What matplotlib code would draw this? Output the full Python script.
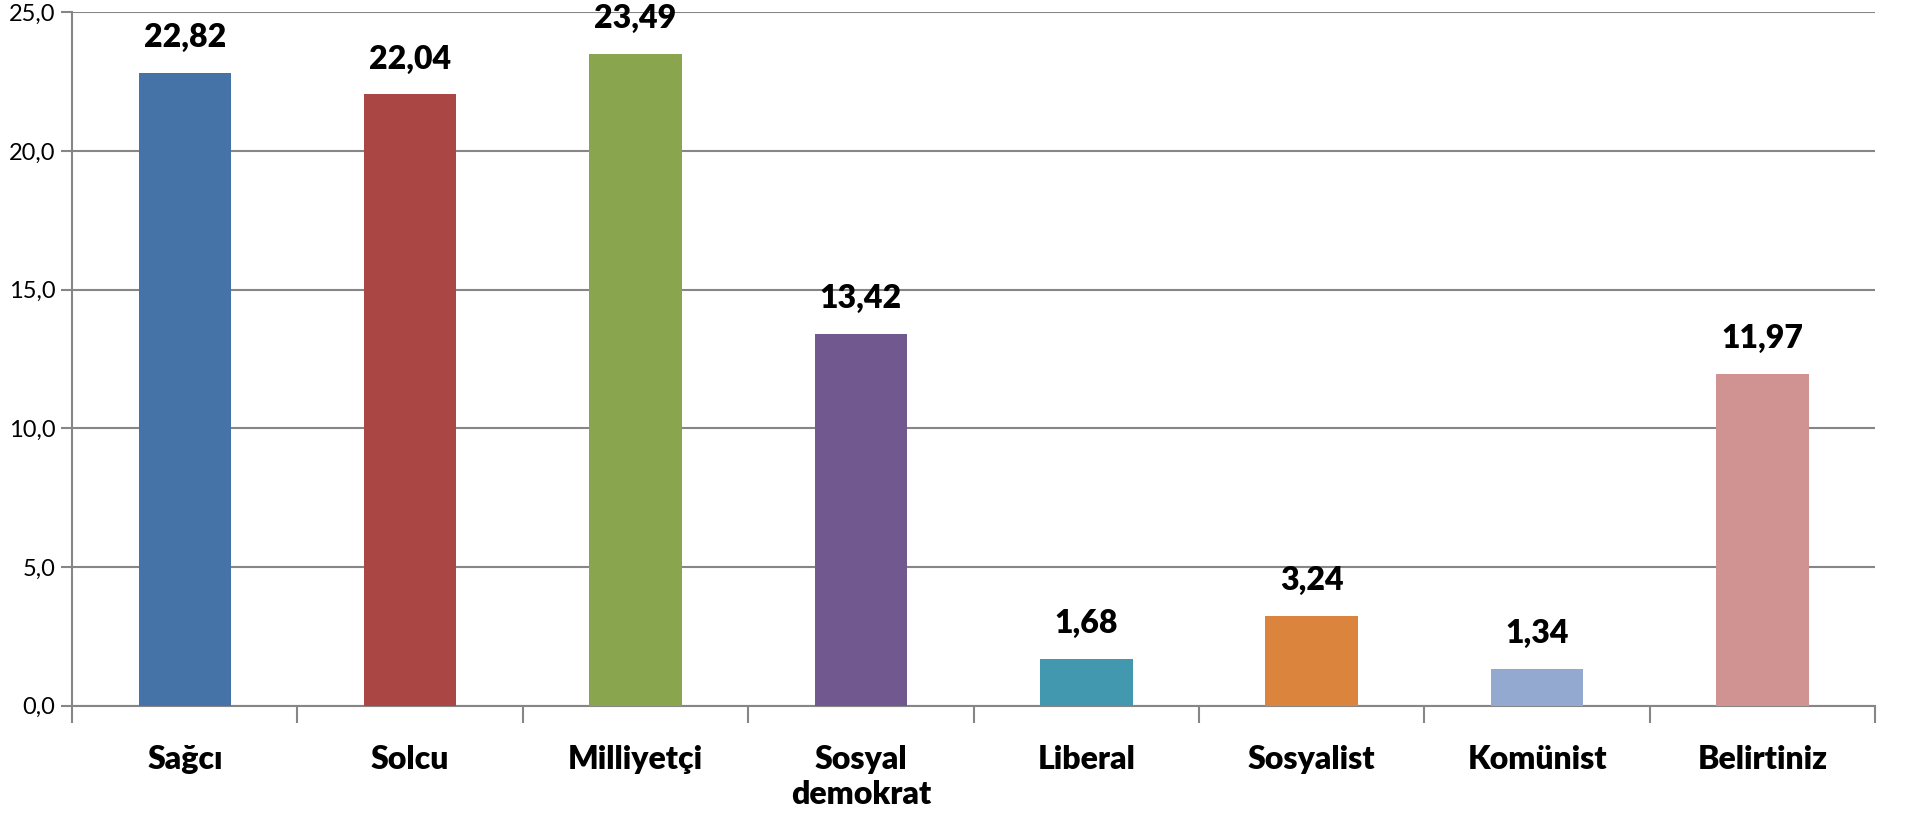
import matplotlib
matplotlib.use("Agg")
import matplotlib.pyplot as plt
from matplotlib.ticker import FixedLocator, FuncFormatter

categories = ["Sağcı", "Solcu", "Milliyetçi", "Sosyal\ndemokrat", "Liberal", "Sosyalist", "Komünist", "Belirtiniz"]
values = [22.82, 22.04, 23.49, 13.42, 1.68, 3.24, 1.34, 11.97]
colors = ["#4572A7", "#AA4643", "#89A54E", "#71588F", "#4198AF", "#DB843D", "#93A9CF", "#D19392"]
y_ticks = [0, 5, 10, 15, 20, 25]

plt.rcParams["font.family"] = ["Lato", "DejaVu Sans"]

fig = plt.figure(figsize=(19.07, 8.16), dpi=100)
ax = fig.add_axes([0.0378, 0.135, 0.9455, 0.85])

x = list(range(len(categories)))
ax.bar(x, values, width=0.41, color=colors, zorder=3)
for xi, v in zip(x, values):
    ax.annotate(f"{v:.2f}".replace(".", ","), (xi, v), xytext=(0, 15), textcoords="offset points",
                ha="center", va="bottom", fontsize=23, fontweight="heavy", color="black")

ax.set_xlim(-0.5, len(categories) - 0.5)
ax.set_ylim(0, 25)
ax.set_yticks(y_ticks)
ax.yaxis.set_major_formatter(FuncFormatter(lambda v, _: f"{v:.1f}".replace(".", ",")))
ax.tick_params(axis="y", labelsize=17, length=8, width=1.5, color="#868686", pad=4)
ax.grid(axis="y", color="#868686", linewidth=1.5, zorder=0)

ax.set_xticks(x)
ax.set_xticklabels(categories, fontsize=23, fontweight="heavy", linespacing=1.25)
ax.tick_params(axis="x", which="major", length=0, pad=28)
ax.xaxis.set_minor_locator(FixedLocator([i - 0.5 for i in range(len(categories) + 1)]))
ax.tick_params(axis="x", which="minor", length=12, width=1.5, color="#868686")

for side in ["top", "right"]:
    ax.spines[side].set_visible(False)
for side in ["left", "bottom"]:
    ax.spines[side].set_color("#868686")
    ax.spines[side].set_linewidth(1.5)

fig.savefig("out.png", dpi=100)
